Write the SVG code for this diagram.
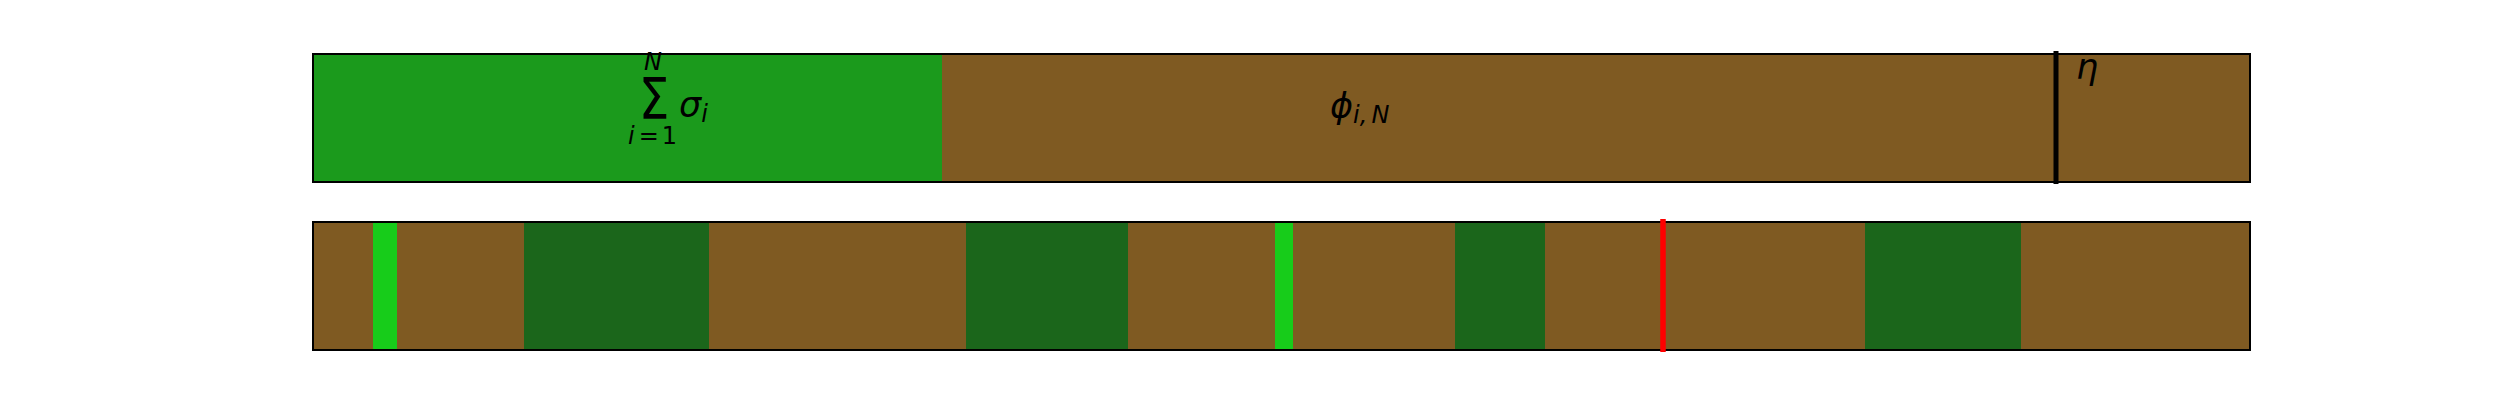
<svg xmlns="http://www.w3.org/2000/svg" width="2500" height="400" viewBox="0 0 2500 400">
<style>
.brown{fill:#7f5a22}
.topgreen{fill:#1b9a1c}
.dark{fill:#1b661b}
.bright{fill:#17cc1a}
.frame{fill:none;stroke:#000;stroke-width:2}
.m{font-family:"DejaVu Sans",sans-serif;font-style:italic;fill:#000}
.u{font-family:"DejaVu Sans",sans-serif;font-style:normal;fill:#000}
</style>
<rect width="2500" height="400" fill="#fff"/>
<g id="top-bar">
<rect class="brown" x="313" y="54" width="1937" height="128"/>
<rect class="topgreen" x="313" y="54" width="629" height="128"/>
<rect class="frame" x="313" y="54" width="1937" height="128"/>
</g>
<g id="eta-marker">
<line x1="2056" y1="51" x2="2056" y2="184" stroke="#000" stroke-width="5"/>
<text class="m" x="2076" y="79" font-size="35">η</text>
</g>
<g id="sum-label">
<text class="u" font-size="57" text-anchor="middle" transform="translate(654,119) scale(0.85,1)">Σ</text>
<text class="m" x="653" y="70" font-size="24" text-anchor="middle">N</text>
<text x="628" y="144" font-size="24" class="m">i<tspan class="u" dx="4">=</tspan><tspan class="u" dx="3">1</tspan></text>
<text class="m" x="679" y="117" font-size="35">σ<tspan font-size="24" dy="5">i</tspan></text>
</g>
<g id="phi-label">
<text class="m" x="1330" y="118" font-size="35">ϕ<tspan font-size="24" dy="5">i,</tspan><tspan font-size="24" dx="4">N</tspan></text>
</g>
<g id="bottom-bar">
<rect class="brown" x="313" y="222" width="1937" height="128"/>
<rect class="bright" x="373" y="222" width="24" height="128"/>
<rect class="dark" x="524" y="222" width="185" height="128"/>
<rect class="dark" x="966" y="222" width="162" height="128"/>
<rect class="bright" x="1275" y="222" width="18" height="128"/>
<rect class="dark" x="1455" y="222" width="90" height="128"/>
<rect class="dark" x="1865" y="222" width="156" height="128"/>
<rect class="frame" x="313" y="222" width="1937" height="128"/>
</g>
<g id="connectors">
<line x1="1663" y1="219" x2="1663" y2="352" stroke="#ff0000" stroke-width="5.5"/>
</g>
</svg>
